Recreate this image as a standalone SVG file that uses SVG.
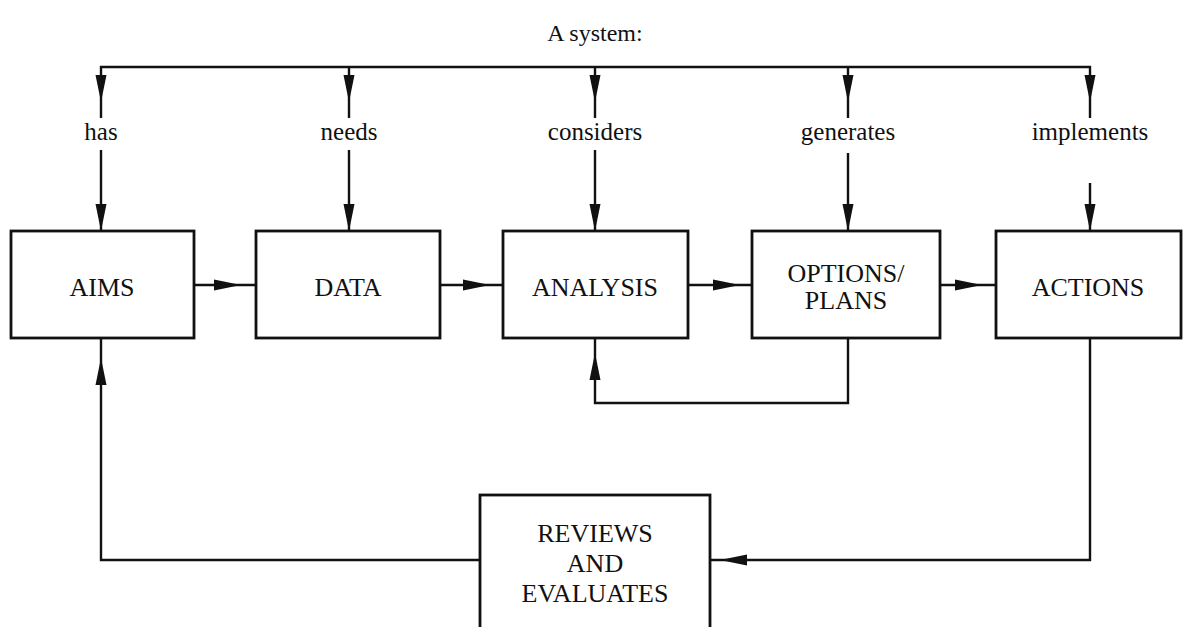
<svg xmlns="http://www.w3.org/2000/svg" width="1186" height="627" viewBox="0 0 1186 627">
<style>
.box{fill:#fff;stroke:#111;stroke-width:2.8}
.ln{fill:none;stroke:#111;stroke-width:2.4}
.t{font-family:"Liberation Serif","Times New Roman",serif;fill:#111;text-anchor:middle}
.bt{font-size:26px}
.lt{font-size:25px}
.ah{fill:#111}
</style>
<defs>
<path id="ad" class="ah" d="M0,0 L-5.5,-27 L5.5,-27 Z"/>
</defs>
<rect width="1186" height="627" fill="#fff"/>
<text class="t" style="font-size:24px" x="595" y="41">A system:</text>
<g id="connectors">
<path class="ln" d="M101,118 V67 H1090 V118"/>
<path class="ln" d="M349,67 V118 M595,67 V118 M848,67 V118"/>
<path class="ln" d="M101,150 V231 M349,150 V231 M595,150 V231 M848,153 V231 M1090,183 V231"/>
<path class="ln" d="M194,285 H256 M440,285 H503 M688,285 H752 M940,285 H996"/>
<path class="ln" d="M848,338 V403 H595 V338"/>
<path class="ln" d="M1090,338 V560 H710"/>
<path class="ln" d="M480,560 H101 V338"/>
<use href="#ad" x="101" y="102"/>
<use href="#ad" x="349" y="102"/>
<use href="#ad" x="595" y="102"/>
<use href="#ad" x="848" y="102"/>
<use href="#ad" x="1090" y="102"/>
<use href="#ad" x="101" y="231"/>
<use href="#ad" x="349" y="231"/>
<use href="#ad" x="595" y="231"/>
<use href="#ad" x="848" y="231"/>
<use href="#ad" x="1090" y="231"/>
<use href="#ad" transform="translate(241,285) rotate(-90)"/>
<use href="#ad" transform="translate(490,285) rotate(-90)"/>
<use href="#ad" transform="translate(740,285) rotate(-90)"/>
<use href="#ad" transform="translate(982,285) rotate(-90)"/>
<use href="#ad" transform="translate(595,353) rotate(180)"/>
<use href="#ad" transform="translate(101,358) rotate(180)"/>
<use href="#ad" transform="translate(720,560) rotate(90)"/>
</g>
<g id="labels">
<text class="t lt" x="101" y="140">has</text>
<text class="t lt" x="349" y="140">needs</text>
<text class="t lt" x="595" y="140">considers</text>
<text class="t lt" x="848" y="140">generates</text>
<text class="t lt" x="1090" y="140">implements</text>
</g>
<g id="aims"><rect class="box" x="11" y="231" width="183" height="107"/><text class="t bt" x="102" y="296">AIMS</text></g>
<g id="data"><rect class="box" x="256" y="231" width="184" height="107"/><text class="t bt" x="348" y="296">DATA</text></g>
<g id="analysis"><rect class="box" x="503" y="231" width="185" height="107"/><text class="t bt" x="595" y="296">ANALYSIS</text></g>
<g id="options"><rect class="box" x="752" y="231" width="188" height="107"/><text class="t bt" x="846" y="282">OPTIONS/</text><text class="t bt" x="846" y="309">PLANS</text></g>
<g id="actions"><rect class="box" x="996" y="231" width="185" height="107"/><text class="t bt" x="1088" y="296">ACTIONS</text></g>
<g id="reviews"><rect class="box" x="480" y="495" width="230" height="140"/><text class="t bt" x="595" y="542">REVIEWS</text><text class="t bt" x="595" y="572">AND</text><text class="t bt" x="595" y="602">EVALUATES</text></g>
</svg>
